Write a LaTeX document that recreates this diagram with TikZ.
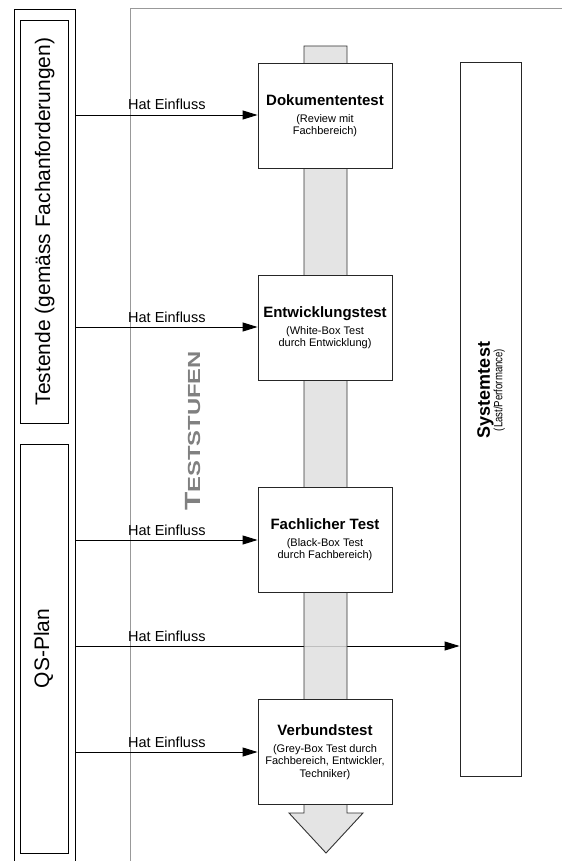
\documentclass[tikz,border=0pt]{standalone}
\usepackage{fontspec}
\usepackage{graphicx}
\setmainfont{Liberation Sans}
\usetikzlibrary{arrows.meta}
\begin{document}
\begin{tikzpicture}[x=1pt,y=-1pt,
  conn/.style={draw=black, line width=0.9pt, -{Triangle[length=15pt,width=9pt]}},
  stepbox/.style={draw=black!85, line width=0.9pt, fill=white, minimum width=134pt, minimum height=105pt, inner sep=0pt, align=center, font=\fontsize{11}{12.3}\selectfont},
  lbl/.style={anchor=base west, inner sep=0pt, font=\fontsize{14.5}{16}\selectfont},
  sidebox/.style={draw=black, line width=0.9pt, minimum width=48pt, inner sep=0pt},
  vtext/.style={rotate=90, anchor=base, inner sep=0pt, font=\fontsize{21}{21}\selectfont},
  ]
\useasboundingbox (0,0) rectangle (562,861);
\fill[white] (0,0) rectangle (562,861);
% frames
\draw[black!40, line width=1pt] (130,861) -- (130,9) -- (562,9);
\draw[black, line width=0.9pt] (14,861) -- (14,9) -- (75,9) -- (75,861);
\node[sidebox, minimum height=403pt] (testende) at (44,221.5) {};
\node[sidebox, minimum height=409pt] (qs) at (44,648.5) {};
\node[vtext] (testendeT) at (50,221.5) {Testende (gemäss Fachanforderungen)};
\node[vtext] (qsT) at (49,648.5) {QS-Plan};
% Systemtest
\node[draw=black!85, line width=0.9pt, minimum width=61pt, minimum height=714pt, inner sep=0pt] (sys) at (490.5,419) {};
\node[rotate=90, align=center, inner sep=0pt] (systext) at (491,390) {{\bfseries\fontsize{18}{18}\selectfont Systemtest}\\[-1pt]{\fontsize{12}{12}\selectfont\scalebox{0.8}[1]{(Last/Performance)}}};
\coordinate (a4) at (75,646);
\draw[conn] (a4) -- (a4 -| sys.west);
% column arrow
\path[draw=black!80, line width=0.9pt, fill=black!12, fill opacity=0.85] (304,46) -- (347,46) -- (347,813) -- (363,813) -- (326,853) -- (289,813) -- (304,813) -- cycle;
% boxes
\node[stepbox] (doc) at (325,115.5) {{\bfseries\fontsize{15}{15}\selectfont Dokumententest}\\[4.7pt](Review mit\\Fachbereich)};
\node[stepbox] (ent) at (325,327.5) {{\bfseries\fontsize{15}{15}\selectfont Entwicklungstest}\\[4.7pt](White-Box Test\\durch Entwicklung)};
\node[stepbox] (fach) at (325,539.5) {{\bfseries\fontsize{15}{15}\selectfont Fachlicher Test}\\[4.7pt](Black-Box Test\\durch Fachbereich)};
\node[stepbox] (verb) at (325,752) {{\bfseries\fontsize{15}{15}\selectfont Verbundstest}\\[4.7pt](Grey-Box Test durch\\Fachbereich, Entwickler,\\Techniker)};
% arrows
\coordinate (a1) at (75,115);
\coordinate (a2) at (75,327);
\coordinate (a3) at (75,540);
\coordinate (a5) at (75,752);
\draw[conn] (a1) -- (a1 -| doc.west);
\draw[conn] (a2) -- (a2 -| ent.west);
\draw[conn] (a3) -- (a3 -| fach.west);
\draw[conn] (a5) -- (a5 -| verb.west);
\node[lbl] (l1) at (128,110) {Hat Einfluss};
\node[lbl] (l2) at (128,322) {Hat Einfluss};
\node[lbl] (l3) at (128,535) {Hat Einfluss};
\node[lbl] (l4) at (128,641) {Hat Einfluss};
\node[lbl] (l5) at (128,747) {Hat Einfluss};
% Teststufen
\node[rotate=90, anchor=base, inner sep=0pt, text=black!50, font=\bfseries] (stufen) at (200,431) {\scalebox{1.36}[1]{{\fontsize{22}{22}\selectfont T}{\fontsize{17.5}{17.5}\selectfont ESTSTUFEN}}};
\end{tikzpicture}
\end{document}
